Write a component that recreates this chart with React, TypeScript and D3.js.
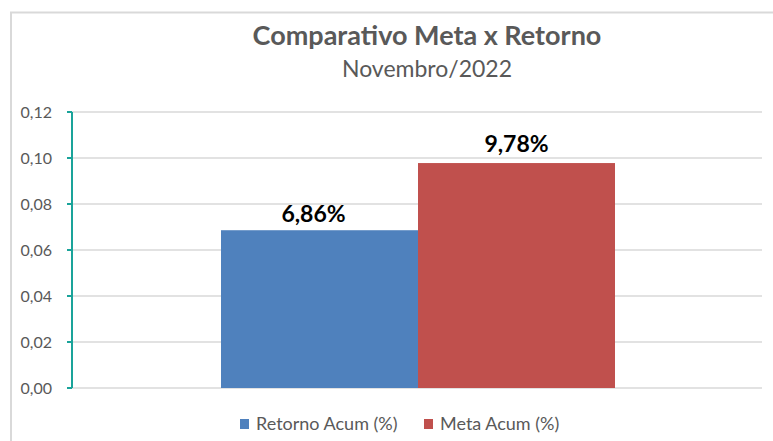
import React from "react";
import * as d3 from "d3";

const seriesNames = ["Retorno Acum (%)", "Meta Acum (%)"];
const seriesValues = [0.0686, 0.0978];
const seriesColors = ["#4f81bd", "#c0504d"];
const yTicks = [0, 0.02, 0.04, 0.06, 0.08, 0.1, 0.12];
const title = "Comparativo Meta x Retorno";
const subtitle = "Novembro/2022";

const W = 773;
const H = 441;
const FONT = "Lato, 'Open Sans', sans-serif";

export default function App() {
  const plotL = 72;
  const plotR = 762;
  const plotT = 112;
  const plotB = 388;
  const y = d3.scaleLinear().domain([0, 0.12]).range([plotB, plotT]);
  const x = d3.scaleBand<string>().domain(seriesNames).range([221, 615]).padding(0);
  const fmtTick = (v: number) => d3.format(".2f")(v).replace(".", ",");
  const fmtPct = (v: number) => d3.format(".2f")(v * 100).replace(".", ",") + "%";

  const legendItems = [
    { name: seriesNames[0], color: seriesColors[0], x: 240 },
    { name: seriesNames[1], color: seriesColors[1], x: 424 },
  ];

  return (
    <svg
      width={W}
      height={H}
      style={{ position: "absolute", left: 0, top: 0, background: "#fff" }}
      fontFamily={FONT}
    >
      <rect x={0} y={0} width={W} height={H} fill="#fff" />
      <path d={`M11,${H} L11,12.5 L${W},12.5`} fill="none" stroke="#d9d9d9" strokeWidth={2} />
      <text x={427} y={45} textAnchor="middle" fontSize={27} fontWeight="bold" fill="#595959">
        {title}
      </text>
      <text x={427} y={77} textAnchor="middle" fontSize={23} fill="#595959">
        {subtitle}
      </text>
      {yTicks.map((t) => (
        <g key={t}>
          <line x1={plotL} x2={plotR} y1={y(t)} y2={y(t)} stroke="#d9d9d9" strokeWidth={1.5} />
          <line x1={67} x2={plotL} y1={y(t)} y2={y(t)} stroke="#1aa39a" strokeWidth={2} />
          <text x={52} y={y(t) + 5.5} textAnchor="end" fontSize={16} fill="#595959">
            {fmtTick(t)}
          </text>
        </g>
      ))}
      {seriesNames.map((s, i) => (
        <g key={s}>
          <rect
            x={x(s)}
            y={y(seriesValues[i])}
            width={x.bandwidth()}
            height={plotB - y(seriesValues[i])}
            fill={seriesColors[i]}
          />
          <text
            x={(x(s) as number) + x.bandwidth() / 2 - (i === 0 ? 6 : 0)}
            y={y(seriesValues[i]) - (i === 0 ? 8 : 11)}
            textAnchor="middle"
            fontSize={23}
            fontWeight="bold"
            fill="#000"
          >
            {fmtPct(seriesValues[i])}
          </text>
        </g>
      ))}
      <line x1={plotL} x2={plotL} y1={plotT} y2={plotB} stroke="#1aa39a" strokeWidth={2} />
      {legendItems.map((it) => (
        <g key={it.name}>
          <rect x={it.x} y={419} width={9} height={10} fill={it.color} />
          <text x={it.x + 16} y={430} fontSize={18} fill="#595959">
            {it.name}
          </text>
        </g>
      ))}
    </svg>
  );
}
